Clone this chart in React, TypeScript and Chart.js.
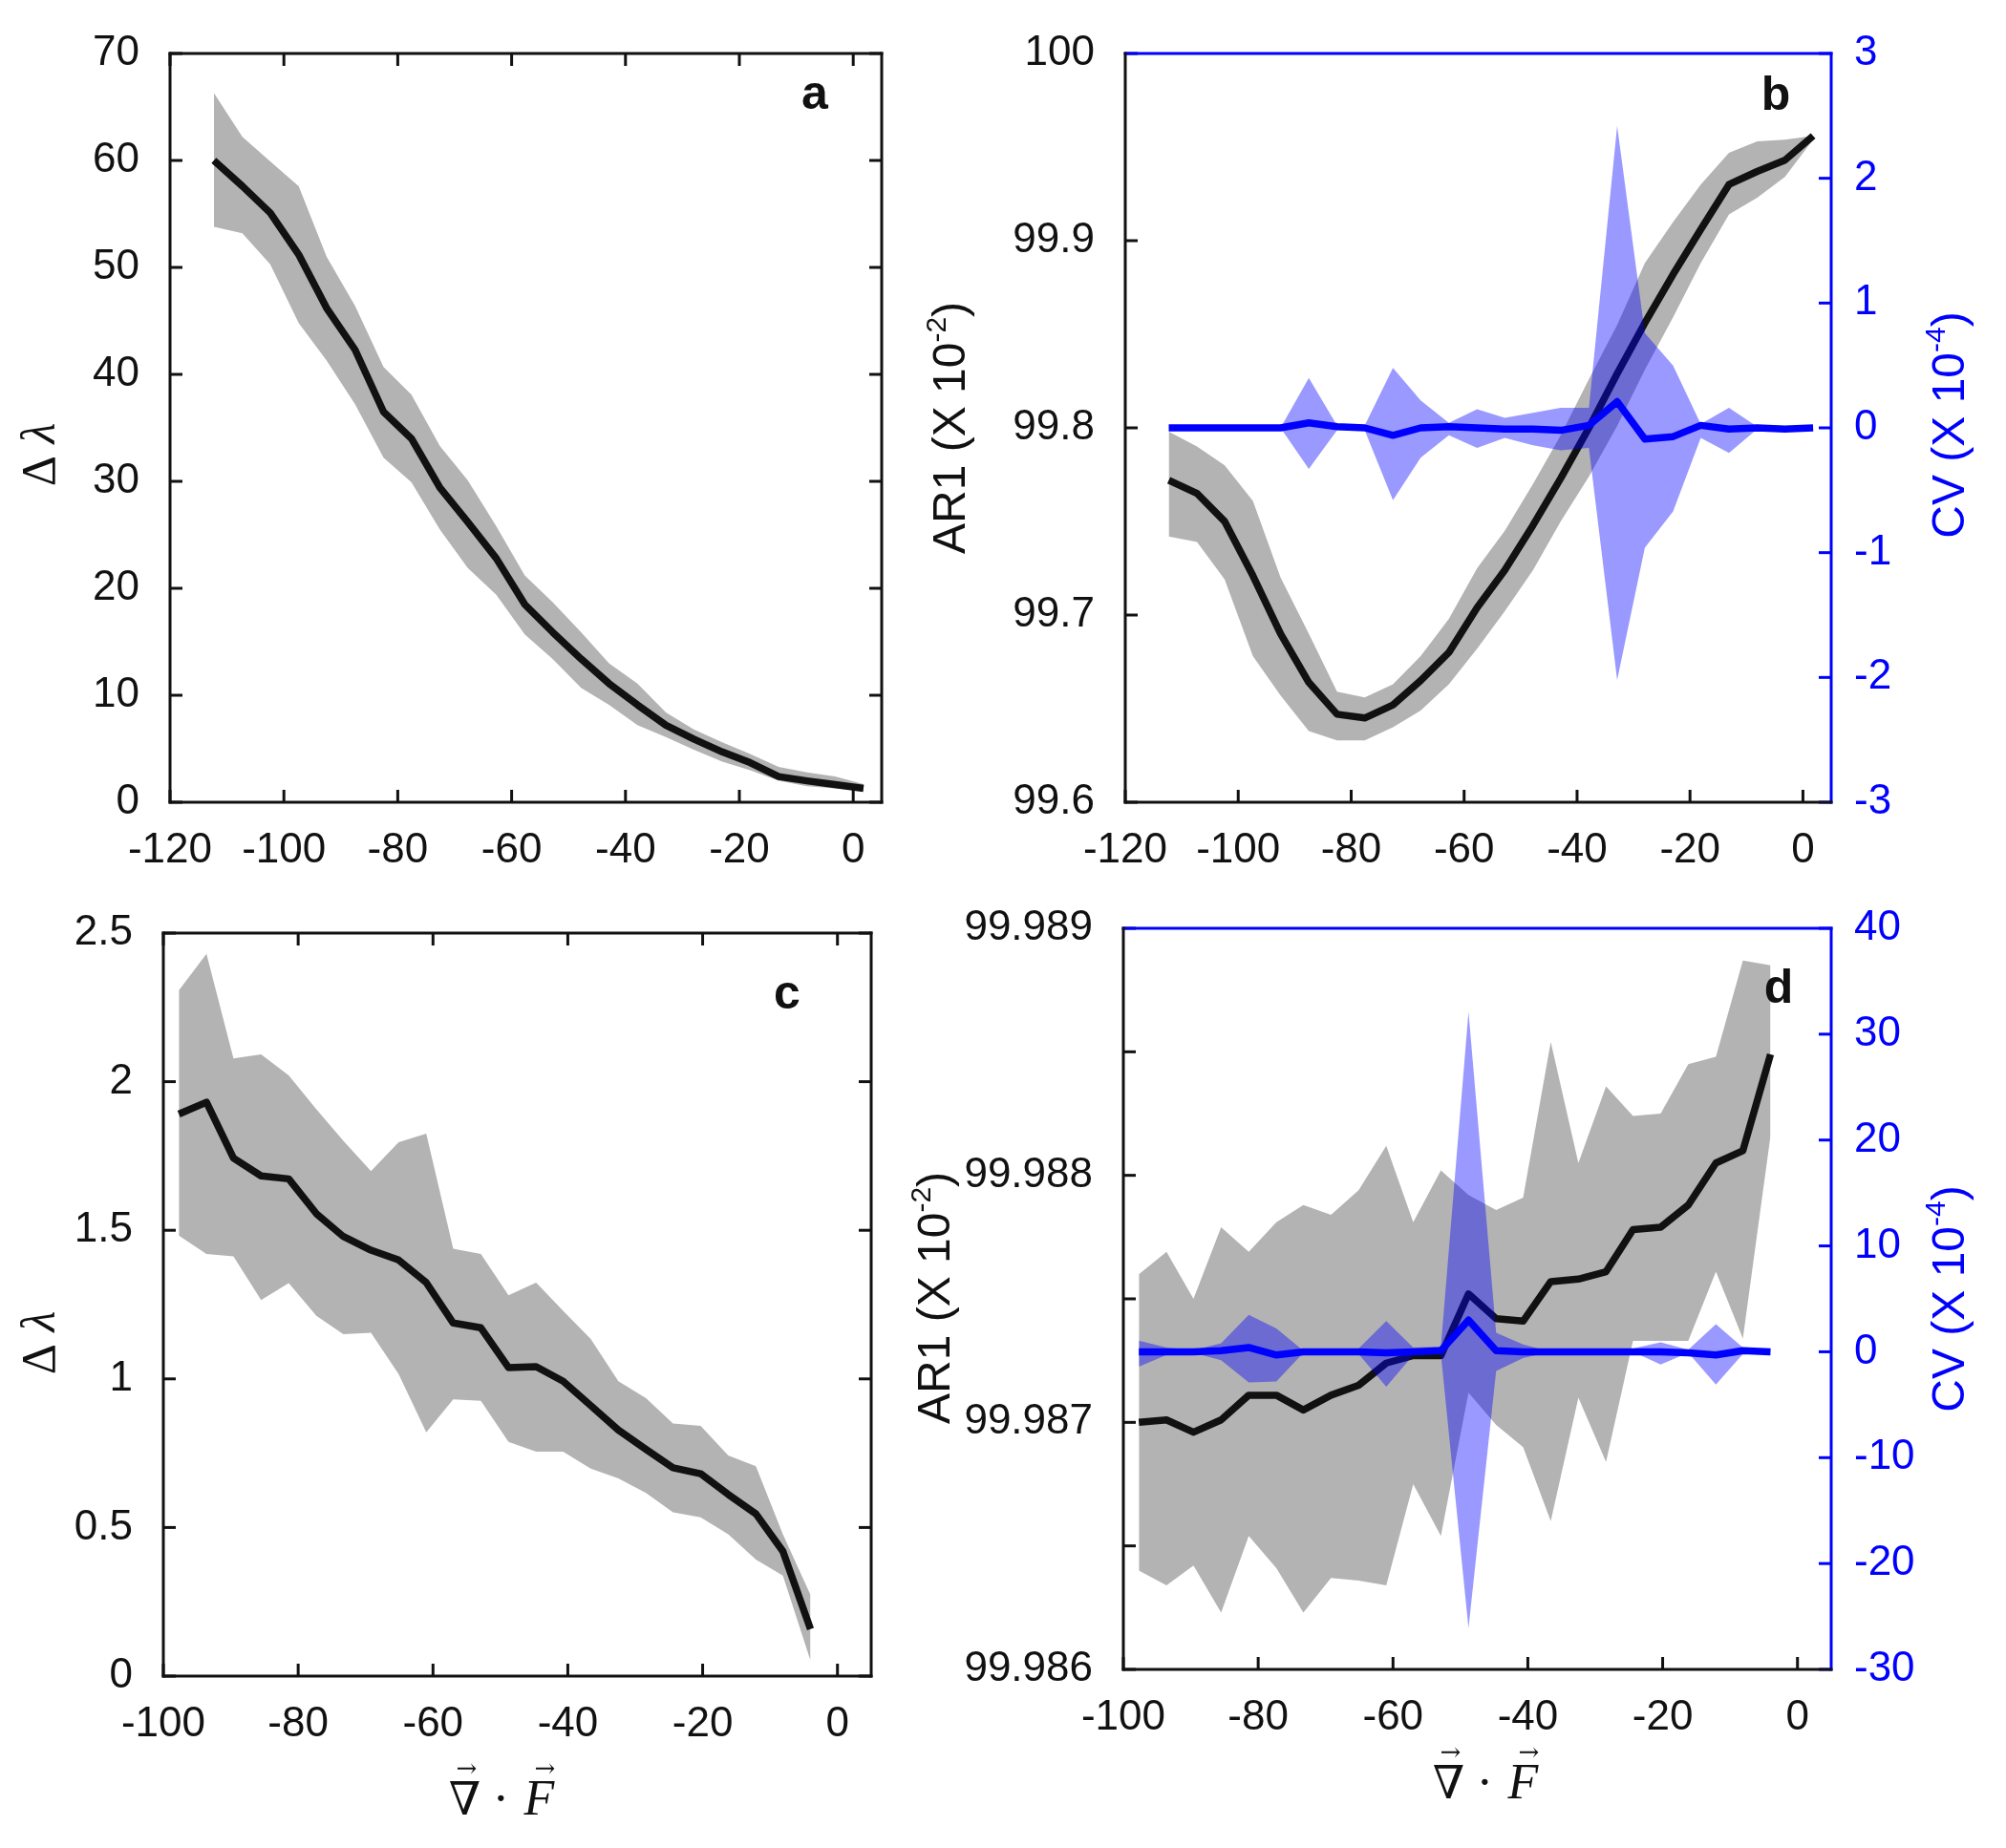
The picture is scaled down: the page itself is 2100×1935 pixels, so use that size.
import { useEffect, useRef } from "react";
import { Chart, registerables } from "chart.js";
import type { ChartConfiguration } from "chart.js";

Chart.register(...registerables);

// x positions of the samples (top row: panels a, b; bottom row: panels c, d)
const xTop = [-112.3, -107.3, -102.4, -97.4, -92.5, -87.5, -82.5, -77.6, -72.6, -67.7, -62.7, -57.7, -52.8, -47.8, -42.9, -37.9, -32.9, -28.0, -23.0, -18.1, -13.1, -8.1, -3.2, 1.8];
const xBottom = [-97.7, -93.6, -89.6, -85.5, -81.4, -77.3, -73.3, -69.2, -65.1, -61.0, -57.0, -52.9, -48.8, -44.7, -40.7, -36.6, -32.5, -28.4, -24.4, -20.3, -16.2, -12.1, -8.1, -4.0];

// panel a : delta lambda
const aMean = [60.0, 57.6, 55.1, 51.2, 46.2, 42.3, 36.5, 34.0, 29.4, 26.2, 22.8, 18.5, 15.9, 13.4, 11.1, 9.1, 7.2, 5.9, 4.7, 3.7, 2.4, 2.0, 1.65, 1.3];
const aUpper = [66.3, 62.2, 59.9, 57.6, 51.0, 46.4, 40.7, 38.1, 33.3, 30.1, 25.8, 21.2, 18.7, 15.9, 13.0, 11.1, 8.4, 6.8, 5.6, 4.5, 3.3, 2.8, 2.4, 1.7];
const aLower = [53.8, 53.2, 50.3, 44.8, 41.3, 37.2, 32.2, 29.9, 25.5, 21.9, 19.4, 15.7, 13.4, 10.7, 9.1, 7.2, 6.1, 4.9, 3.8, 3.0, 2.0, 1.5, 1.3, 1.05];

// panel b : AR1 (black) and CV (blue)
const bAr1 = [99.772, 99.765, 99.75, 99.721, 99.69, 99.664, 99.647, 99.645, 99.652, 99.665, 99.68, 99.704, 99.724, 99.748, 99.773, 99.8, 99.829, 99.856, 99.882, 99.906, 99.93, 99.937, 99.943, 99.956];
const bAr1Upper = [99.798, 99.79, 99.78, 99.761, 99.72, 99.69, 99.659, 99.656, 99.663, 99.678, 99.698, 99.725, 99.745, 99.77, 99.796, 99.826, 99.855, 99.888, 99.91, 99.93, 99.947, 99.953, 99.954, 99.956];
const bAr1Lower = [99.742, 99.739, 99.719, 99.678, 99.657, 99.638, 99.633, 99.633, 99.64, 99.649, 99.663, 99.682, 99.702, 99.724, 99.75, 99.774, 99.801, 99.831, 99.859, 99.888, 99.914, 99.923, 99.934, 99.954];
const bCv = [0, 0, 0, 0, 0, 0.04, 0.01, 0, -0.06, 0, 0.01, 0, -0.01, -0.01, -0.02, 0.02, 0.21, -0.09, -0.07, 0.02, -0.01, 0, -0.01, 0];
const bCvUpper = [0, 0, 0, 0, 0, 0.4, 0.02, 0.02, 0.48, 0.22, 0.04, 0.15, 0.08, 0.12, 0.16, 0.16, 2.42, 0.76, 0.5, 0.03, 0.16, 0.01, 0, 0];
const bCvLower = [0, 0, 0, 0, 0, -0.33, -0.02, -0.02, -0.58, -0.24, -0.06, -0.16, -0.08, -0.14, -0.18, -0.16, -2.02, -0.96, -0.67, -0.08, -0.2, -0.01, 0, 0];

// panel c : delta lambda
const cMean = [1.891, 1.931, 1.743, 1.683, 1.673, 1.556, 1.479, 1.433, 1.4, 1.324, 1.188, 1.172, 1.038, 1.041, 0.992, 0.91, 0.828, 0.763, 0.701, 0.681, 0.611, 0.546, 0.42, 0.158];
const cUpper = [2.307, 2.43, 2.078, 2.092, 2.021, 1.907, 1.801, 1.699, 1.796, 1.825, 1.438, 1.42, 1.281, 1.324, 1.229, 1.134, 0.992, 0.935, 0.85, 0.842, 0.742, 0.706, 0.477, 0.273];
const cLower = [1.482, 1.42, 1.412, 1.265, 1.322, 1.212, 1.15, 1.155, 1.016, 0.82, 0.931, 0.926, 0.788, 0.755, 0.755, 0.698, 0.665, 0.616, 0.551, 0.534, 0.477, 0.392, 0.338, 0.052];

// panel d : AR1 (black) and CV (blue)
const dAr1 = [99.987, 99.98701, 99.98696, 99.98701, 99.98711, 99.98711, 99.98705, 99.98711, 99.98715, 99.98724, 99.98727, 99.98727, 99.98752, 99.98742, 99.98741, 99.98757, 99.98758, 99.98761, 99.98778, 99.98779, 99.98788, 99.98805, 99.9881, 99.98849];
const dAr1Upper = [99.9876, 99.98769, 99.9875, 99.98779, 99.98769, 99.98781, 99.98788, 99.98784, 99.98794, 99.98812, 99.98781, 99.98802, 99.98792, 99.98786, 99.98791, 99.98854, 99.98805, 99.98836, 99.98824, 99.98825, 99.98845, 99.98848, 99.98887, 99.98885];
const dAr1Lower = [99.9864, 99.98634, 99.98642, 99.98623, 99.98654, 99.98641, 99.98623, 99.98637, 99.98636, 99.98634, 99.98675, 99.98654, 99.98712, 99.98699, 99.9869, 99.9866, 99.9871, 99.98684, 99.98733, 99.98733, 99.98733, 99.98761, 99.98734, 99.98816];
const dCv = [0, 0, 0, 0.1, 0.4, -0.3, 0, 0, 0, -0.1, 0, 0.1, 3.0, 0.1, 0, 0, 0, 0, 0, 0, -0.1, -0.3, 0.1, 0];
const dCvUpper = [1.05, 0.4, 0.15, 0.8, 3.5, 2.2, 0.1, 0, 0.3, 2.9, 0.4, 0.5, 32.1, 1.8, 0.7, 0, 0, 0, 0.3, 0.9, 0.2, 2.6, 0.4, 0];
const dCvLower = [-1.4, -0.3, -0.1, -0.8, -2.9, -2.8, -0.1, 0, -0.2, -3.3, -0.3, -0.2, -26.1, -1.8, -0.6, 0, 0, 0, 0, -1.2, -0.1, -3.1, -0.2, 0];

// ticks and their labels
const xTicksTop = [-120, -100, -80, -60, -40, -20, 0];
const xLabelsTop = ["-120", "-100", "-80", "-60", "-40", "-20", "0"];
const xTicksBottom = [-100, -80, -60, -40, -20, 0];
const xLabelsBottom = ["-100", "-80", "-60", "-40", "-20", "0"];
const aTicks = [0, 10, 20, 30, 40, 50, 60, 70];
const aLabels = ["0", "10", "20", "30", "40", "50", "60", "70"];
const bTicks = [99.6, 99.7, 99.8, 99.9, 100];
const bLabels = ["99.6", "99.7", "99.8", "99.9", "100"];
const bCvTicks = [-3, -2, -1, 0, 1, 2, 3];
const bCvLabels = ["-3", "-2", "-1", "0", "1", "2", "3"];
const cTicks = [0, 0.5, 1, 1.5, 2, 2.5];
const cLabels = ["0", "0.5", "1", "1.5", "2", "2.5"];
const dTicks = [99.986, 99.987, 99.988, 99.989];
const dLabels = ["99.986", "99.987", "99.988", "99.989"];
const dMinorTicks = [99.9865, 99.9875, 99.9885];
const dCvTicks = [-30, -20, -10, 0, 10, 20, 30, 40];
const dCvLabels = ["-30", "-20", "-10", "0", "10", "20", "30", "40"];

const BLACK = "#111111";
const BLUE = "#0000ff";
const GREY = "#b3b3b3";
const BLUE_FILL = "rgba(0, 0, 255, 0.4)";
const SANS = "'Liberation Sans', Arial, Helvetica, sans-serif";
const SERIF = "'Liberation Serif', 'DejaVu Serif', serif";
const MATH = "'DejaVu Serif', 'Liberation Serif', serif";
const TICK_FONT = { family: SANS, size: 44 };
const TITLE_FONT = `48px ${SANS}`;
const SUP_FONT = `30px ${SANS}`;
const TICK_LEN = 13;
// room given to the axis boxes (labels are clipped to them)
const LEFT_W = 170;
const RIGHT_W = 100;
const BOTTOM_H = 90;

type Side = "left" | "right" | "top" | "bottom";
type Seg = { t: string; font: string; up?: number };
type Label = { segs: Seg[]; color: string; dx: number; dy: number };
type Marks = { scale: string; values: number[]; side: Side; color: string };
type Frame = {
  sides: Record<Side, string>;
  marks: Marks[];
  letter: { t: string; dx: number; dy: number };
  yLeft: Label;
  yRight?: Label;
  xTitle?: { dx: number; dy: number };
};
type Box = { x: number; y: number; w: number; h: number };
type Area = { l: number; t: number; r: number; b: number };

const deltaLambda: Seg[] = [
  { t: "Δ", font: `50px ${SERIF}` },
  { t: " ", font: `50px ${SERIF}` },
  { t: "λ", font: `italic 50px ${SERIF}` },
];
const ar1Title: Seg[] = [
  { t: "AR1 (X 10", font: TITLE_FONT },
  { t: "-2", font: SUP_FONT, up: 20 },
  { t: ")", font: TITLE_FONT },
];
const cvTitle: Seg[] = [
  { t: "CV (X 10", font: TITLE_FONT },
  { t: "-4", font: SUP_FONT, up: 20 },
  { t: ")", font: TITLE_FONT },
];

function drawSegs(ctx: CanvasRenderingContext2D, segs: Seg[], base: number) {
  const widths = segs.map((s) => {
    ctx.font = s.font;
    return ctx.measureText(s.t).width;
  });
  let x = -widths.reduce((p, w) => p + w, 0) / 2;
  segs.forEach((s, i) => {
    ctx.font = s.font;
    ctx.fillText(s.t, x, base - (s.up || 0));
    x += widths[i];
  });
}

function framePlugin(f: Frame) {
  return {
    id: "frame",
    afterDraw(chart: Chart) {
      const ctx = chart.ctx;
      const a = chart.chartArea;
      ctx.save();
      ctx.lineWidth = 3;

      // inward ticks
      ctx.lineCap = "butt";
      for (const m of f.marks) {
        const s = chart.scales[m.scale];
        ctx.strokeStyle = m.color;
        for (const v of m.values) {
          const p = s.getPixelForValue(v);
          ctx.beginPath();
          if (m.side === "left") { ctx.moveTo(a.left, p); ctx.lineTo(a.left + TICK_LEN, p); }
          if (m.side === "right") { ctx.moveTo(a.right, p); ctx.lineTo(a.right - TICK_LEN, p); }
          if (m.side === "bottom") { ctx.moveTo(p, a.bottom); ctx.lineTo(p, a.bottom - TICK_LEN); }
          if (m.side === "top") { ctx.moveTo(p, a.top); ctx.lineTo(p, a.top + TICK_LEN); }
          ctx.stroke();
        }
      }

      // box
      ctx.lineCap = "square";
      const edge = (c: string, x1: number, y1: number, x2: number, y2: number) => {
        ctx.strokeStyle = c;
        ctx.beginPath();
        ctx.moveTo(x1, y1);
        ctx.lineTo(x2, y2);
        ctx.stroke();
      };
      edge(f.sides.top, a.left, a.top, a.right, a.top);
      edge(f.sides.right, a.right, a.top, a.right, a.bottom);
      edge(f.sides.bottom, a.left, a.bottom, a.right, a.bottom);
      edge(f.sides.left, a.left, a.top, a.left, a.bottom);

      // panel letter
      ctx.fillStyle = BLACK;
      ctx.textAlign = "center";
      ctx.textBaseline = "alphabetic";
      ctx.font = `bold 50px ${SANS}`;
      ctx.fillText(f.letter.t, a.right + f.letter.dx, a.top + f.letter.dy);

      // y titles, rotated
      const midY = (a.top + a.bottom) / 2;
      ctx.textAlign = "left";
      const yTitle = (lab: Label, x0: number) => {
        ctx.save();
        ctx.translate(x0 + lab.dx, midY + lab.dy);
        ctx.rotate(-Math.PI / 2);
        ctx.fillStyle = lab.color;
        drawSegs(ctx, lab.segs, 17);
        ctx.restore();
      };
      yTitle(f.yLeft, a.left);
      if (f.yRight) yTitle(f.yRight, a.right);

      // x title: vec(nabla) . vec(F)
      if (f.xTitle) {
        const cx = (a.left + a.right) / 2 + f.xTitle.dx;
        const by = a.bottom + f.xTitle.dy;
        ctx.fillStyle = BLACK;
        ctx.textAlign = "center";
        ctx.font = `48px ${MATH}`;
        ctx.fillText("∇", cx - 38, by);
        ctx.fillText("·", cx, by);
        ctx.font = `italic 52px ${SERIF}`;
        ctx.fillText("F", cx + 40, by);
        ctx.font = `26px ${MATH}`;
        ctx.fillText("→", cx - 36, by - 40);
        ctx.fillText("→", cx + 46, by - 40);
      }
      ctx.restore();
    },
  };
}

function pts(xs: number[], ys: number[]) {
  return xs.map((x, i) => ({ x, y: ys[i] }));
}

function lineSet(xs: number[], ys: number[], color: string, axis = "y") {
  return {
    data: pts(xs, ys),
    borderColor: color,
    borderWidth: 7.5,
    borderJoinStyle: "round" as const,
    pointRadius: 0,
    fill: false,
    tension: 0,
    yAxisID: axis,
  };
}

function bandSet(xs: number[], ys: number[], color: string, fill: string | boolean, axis = "y") {
  return {
    data: pts(xs, ys),
    borderColor: "rgba(0,0,0,0)",
    borderWidth: 0,
    backgroundColor: color,
    pointRadius: 0,
    fill,
    tension: 0,
    yAxisID: axis,
  };
}

function xScale(min: number, max: number, ticks: number[], labels: string[]) {
  return {
    type: "linear" as const,
    position: "bottom" as const,
    min,
    max,
    grid: { display: false },
    border: { display: false },
    afterBuildTicks: (s: any) => { s.ticks = ticks.map((value) => ({ value })); },
    afterFit: (s: any) => { s.height = BOTTOM_H; s.paddingLeft = 0; s.paddingRight = 0; },
    ticks: {
      autoSkip: false, maxRotation: 0, minRotation: 0, padding: 16, color: BLACK, font: TICK_FONT,
      callback: (_v: unknown, i: number) => labels[i],
    },
  };
}

function yScale(min: number, max: number, ticks: number[], labels: string[], side: "left" | "right", color: string) {
  return {
    type: "linear" as const,
    position: side,
    min,
    max,
    grid: { display: false },
    border: { display: false },
    afterBuildTicks: (s: any) => { s.ticks = ticks.map((value) => ({ value })); },
    afterFit: (s: any) => {
      s.width = side === "left" ? LEFT_W : RIGHT_W;
      s.paddingTop = 0;
      s.paddingBottom = 0;
    },
    ticks: {
      autoSkip: false, padding: side === "left" ? 24 : 16, color, font: TICK_FONT,
      callback: (_v: unknown, i: number) => labels[i],
    },
  };
}

function makeConfig(box: Box, area: Area, datasets: any[], scales: any, frame: Frame): ChartConfiguration {
  const right = scales.y2 ? RIGHT_W : 0;
  return {
    type: "line",
    data: { datasets },
    options: {
      responsive: false,
      animation: false,
      events: [],
      layout: {
        padding: {
          left: area.l - box.x - LEFT_W,
          top: area.t - box.y,
          right: box.x + box.w - area.r - right,
          bottom: box.y + box.h - area.b - BOTTOM_H,
        },
      },
      plugins: { legend: { display: false }, tooltip: { enabled: false } },
      scales,
    },
    plugins: [framePlugin(frame)],
  } as ChartConfiguration;
}

const boxA: Box = { x: 0, y: 0, w: 1050, h: 960 };
const boxB: Box = { x: 940, y: 0, w: 1160, h: 960 };
const boxC: Box = { x: 0, y: 900, w: 1050, h: 1035 };
const boxD: Box = { x: 940, y: 900, w: 1160, h: 1035 };

const allBlack = { top: BLACK, right: BLACK, bottom: BLACK, left: BLACK };
const twoAxis = { top: BLUE, right: BLUE, bottom: BLACK, left: BLACK };

const buildA = () =>
  makeConfig(
    boxA,
    { l: 178, t: 56, r: 923, b: 840 },
    [lineSet(xTop, aMean, BLACK), bandSet(xTop, aUpper, GREY, "+1"), bandSet(xTop, aLower, GREY, false)],
    { x: xScale(-120, 5, xTicksTop, xLabelsTop), y: yScale(0, 70, aTicks, aLabels, "left", BLACK) },
    {
      sides: allBlack,
      marks: [
        { scale: "x", values: xTicksTop, side: "bottom", color: BLACK },
        { scale: "x", values: xTicksTop, side: "top", color: BLACK },
        { scale: "y", values: aTicks, side: "left", color: BLACK },
        { scale: "y", values: aTicks, side: "right", color: BLACK },
      ],
      letter: { t: "a", dx: -70, dy: 58 },
      yLeft: { segs: deltaLambda, color: BLACK, dx: -138, dy: 28 },
    }
  );

const buildB = () =>
  makeConfig(
    boxB,
    { l: 1178, t: 56, r: 1917, b: 840 },
    [
      lineSet(xTop, bCv, BLUE, "y2"),
      bandSet(xTop, bCvUpper, BLUE_FILL, "+1", "y2"),
      bandSet(xTop, bCvLower, BLUE_FILL, false, "y2"),
      lineSet(xTop, bAr1, BLACK),
      bandSet(xTop, bAr1Upper, GREY, "+1"),
      bandSet(xTop, bAr1Lower, GREY, false),
    ],
    {
      x: xScale(-120, 5, xTicksTop, xLabelsTop),
      y: yScale(99.6, 100, bTicks, bLabels, "left", BLACK),
      y2: yScale(-3, 3, bCvTicks, bCvLabels, "right", BLUE),
    },
    {
      sides: twoAxis,
      marks: [
        { scale: "x", values: xTicksTop, side: "bottom", color: BLACK },
        { scale: "y", values: bTicks, side: "left", color: BLACK },
        { scale: "y2", values: bCvTicks, side: "right", color: BLUE },
      ],
      letter: { t: "b", dx: -58, dy: 59 },
      yLeft: { segs: ar1Title, color: BLACK, dx: -185, dy: 0 },
      yRight: { segs: cvTitle, color: BLUE, dx: 122, dy: -3 },
    }
  );

const buildC = () =>
  makeConfig(
    boxC,
    { l: 171, t: 977, r: 912, b: 1755 },
    [lineSet(xBottom, cMean, BLACK), bandSet(xBottom, cUpper, GREY, "+1"), bandSet(xBottom, cLower, GREY, false)],
    { x: xScale(-100, 5, xTicksBottom, xLabelsBottom), y: yScale(0, 2.5, cTicks, cLabels, "left", BLACK) },
    {
      sides: allBlack,
      marks: [
        { scale: "x", values: xTicksBottom, side: "bottom", color: BLACK },
        { scale: "x", values: xTicksBottom, side: "top", color: BLACK },
        { scale: "y", values: cTicks, side: "left", color: BLACK },
        { scale: "y", values: cTicks, side: "right", color: BLACK },
      ],
      letter: { t: "c", dx: -88, dy: 79 },
      yLeft: { segs: deltaLambda, color: BLACK, dx: -131, dy: 40 },
      xTitle: { dx: -17, dy: 145 },
    }
  );

const buildD = () =>
  makeConfig(
    boxD,
    { l: 1176, t: 972, r: 1917, b: 1748 },
    [
      lineSet(xBottom, dCv, BLUE, "y2"),
      bandSet(xBottom, dCvUpper, BLUE_FILL, "+1", "y2"),
      bandSet(xBottom, dCvLower, BLUE_FILL, false, "y2"),
      lineSet(xBottom, dAr1, BLACK),
      bandSet(xBottom, dAr1Upper, GREY, "+1"),
      bandSet(xBottom, dAr1Lower, GREY, false),
    ],
    {
      x: xScale(-100, 5, xTicksBottom, xLabelsBottom),
      y: yScale(99.986, 99.989, dTicks, dLabels, "left", BLACK),
      y2: yScale(-30, 40, dCvTicks, dCvLabels, "right", BLUE),
    },
    {
      sides: twoAxis,
      marks: [
        { scale: "x", values: xTicksBottom, side: "bottom", color: BLACK },
        { scale: "y", values: dTicks, side: "left", color: BLACK },
        { scale: "y", values: dMinorTicks, side: "left", color: BLACK },
        { scale: "y2", values: dCvTicks, side: "right", color: BLUE },
      ],
      letter: { t: "d", dx: -55, dy: 78 },
      yLeft: { segs: ar1Title, color: BLACK, dx: -199, dy: -1 },
      yRight: { segs: cvTitle, color: BLUE, dx: 122, dy: 0 },
      xTitle: { dx: 8, dy: 135 },
    }
  );

function Panel({ box, build }: { box: Box; build: () => ChartConfiguration }) {
  const ref = useRef<HTMLCanvasElement | null>(null);

  useEffect(() => {
    if (!ref.current) return;
    const chart = new Chart(ref.current, build());
    return () => {
      chart.destroy();
    };
  }, [build]);

  return (
    <canvas
      ref={ref}
      width={box.w}
      height={box.h}
      style={{ position: "absolute", left: box.x, top: box.y, width: box.w, height: box.h }}
    />
  );
}

export default function App() {
  return (
    <div style={{ position: "absolute", left: 0, top: 0, width: 2100, height: 1935, background: "#ffffff" }}>
      <Panel box={boxA} build={buildA} />
      <Panel box={boxC} build={buildC} />
      <Panel box={boxB} build={buildB} />
      <Panel box={boxD} build={buildD} />
    </div>
  );
}
